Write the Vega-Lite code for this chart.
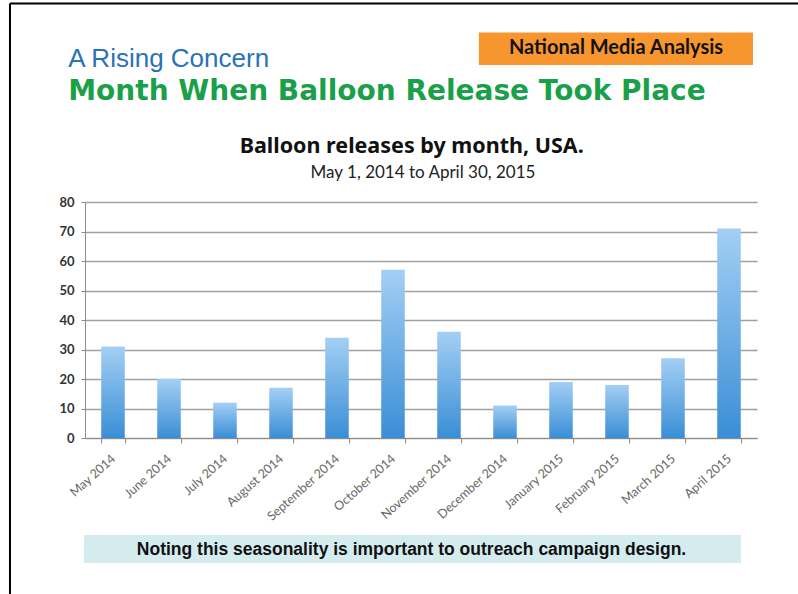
{
  "$schema": "https://vega.github.io/schema/vega-lite/v6.json",
  "autosize": "none",
  "width": 672,
  "height": 236,
  "padding": {"left": 85, "top": 202, "right": 41, "bottom": 156},
  "background": "white",
  "config": {"view": {"stroke": null}},
  "data": {"values": [
    {"month": "May 2014", "releases": 31},
    {"month": "June 2014", "releases": 20},
    {"month": "July 2014", "releases": 12},
    {"month": "August 2014", "releases": 17},
    {"month": "September 2014", "releases": 34},
    {"month": "October 2014", "releases": 57},
    {"month": "November 2014", "releases": 36},
    {"month": "December 2014", "releases": 11},
    {"month": "January 2015", "releases": 19},
    {"month": "February 2015", "releases": 18},
    {"month": "March 2015", "releases": 27},
    {"month": "April 2015", "releases": 71}
  ]},
  "layer": [
    {
      "mark": {"type": "bar", "color": {"gradient": "linear", "x1": 0, "y1": 0, "x2": 0, "y2": 1, "stops": [{"offset": 0, "color": "#A3CFF4"}, {"offset": 1, "color": "#3A8ED6"}]}},
      "encoding": {
        "x": {"field": "month", "type": "nominal", "sort": null, "title": null,
          "scale": {"paddingInner": 0.58, "paddingOuter": 0.29},
          "axis": {"labelAngle": -42, "labelFont": "Lato", "labelFontSize": 12.5, "labelColor": "#666666", "domainColor": "#8C8C8C", "tickColor": "#8C8C8C", "tickBand": "extent", "tickSize": 5, "labelPadding": 9, "labelOffset": -4}},
        "y": {"field": "releases", "type": "quantitative", "title": null,
          "scale": {"domain": [0, 80], "nice": false},
          "axis": {"tickCount": 8, "labelFont": "Lato", "labelFontWeight": "bold", "labelFontSize": 13, "labelColor": "#333333", "domainColor": "#8C8C8C", "tickColor": "#8C8C8C", "tickSize": 4, "gridColor": "#A0A0A0", "gridWidth": 1.4, "labelPadding": 7}}
      }
    },
    {
      "data": {"values": [{"t": "box"}]},
      "mark": {"type": "rect", "color": "#F7962F"},
      "encoding": {
        "x": {"datum": "December 2014", "bandPosition": -0.61},
        "x2": {"datum": "April 2015", "bandPosition": 1.52},
        "y": {"datum": 137.5},
        "y2": {"datum": 126.4}
      }
    },
    {
      "data": {"values": [{"t": "National Media Analysis"}]},
      "mark": {"type": "text", "font": "Lato", "fontWeight": "bold", "fontSize": 20, "color": "#111111", "align": "center", "baseline": "alphabetic", "dx": -1},
      "encoding": {
        "x": {"datum": "February 2015", "bandPosition": 0.5},
        "y": {"datum": 130.1},
        "text": {"field": "t"}
      }
    },
    {
      "data": {"values": [{"t": "A Rising Concern"}]},
      "mark": {"type": "text", "font": "Liberation Sans", "fontSize": 26, "color": "#2A72B8", "align": "left", "baseline": "alphabetic", "dx": -33},
      "encoding": {
        "x": {"datum": "May 2014", "bandPosition": 0},
        "y": {"datum": 125.7},
        "text": {"field": "t"}
      }
    },
    {
      "data": {"values": [{"t": "Month When Balloon Release Took Place"}]},
      "mark": {"type": "text", "font": "DejaVu Sans", "fontWeight": "bold", "fontSize": 28, "color": "#1BA04A", "align": "left", "baseline": "alphabetic", "dx": -33},
      "encoding": {
        "x": {"datum": "May 2014", "bandPosition": 0},
        "y": {"datum": 114.6},
        "text": {"field": "t"}
      }
    },
    {
      "data": {"values": [{"t": "Balloon releases by month, USA."}]},
      "mark": {"type": "text", "font": "Noto Sans", "fontWeight": "bold", "fontSize": 21.5, "color": "#111111", "align": "center", "baseline": "alphabetic", "dx": 18.7},
      "encoding": {
        "x": {"datum": "October 2014", "bandPosition": 0.5},
        "y": {"datum": 96.6},
        "text": {"field": "t"}
      }
    },
    {
      "data": {"values": [{"t": "May 1, 2014 to April 30, 2015"}]},
      "mark": {"type": "text", "font": "Lato", "fontSize": 17, "color": "#222222", "align": "center", "baseline": "alphabetic", "dx": 30},
      "encoding": {
        "x": {"datum": "October 2014", "bandPosition": 0.5},
        "y": {"datum": 88.3},
        "text": {"field": "t"}
      }
    },
    {
      "data": {"values": [{"t": "banner"}]},
      "mark": {"type": "rect", "color": "#D5ECEF"},
      "encoding": {
        "x": {"datum": "May 2014", "bandPosition": -0.73},
        "x2": {"datum": "April 2015", "bandPosition": 1.01},
        "y": {"datum": -32.9},
        "y2": {"datum": -42.4}
      }
    },
    {
      "data": {"values": [{"t": "Noting this seasonality is important to outreach campaign design."}]},
      "mark": {"type": "text", "font": "Liberation Sans", "fontWeight": "bold", "fontSize": 17.5, "color": "#111111", "align": "center", "baseline": "alphabetic", "dx": 18.5},
      "encoding": {
        "x": {"datum": "October 2014", "bandPosition": 0.5},
        "y": {"datum": -39.8},
        "text": {"field": "t"}
      }
    },
    {
      "data": {"values": [{"t": "top border"}]},
      "mark": {"type": "rule", "color": "#000000", "strokeWidth": 2},
      "encoding": {
        "x": {"datum": "May 2014", "bandPosition": -3.88},
        "x2": {"datum": "April 2015", "bandPosition": 3.5},
        "y": {"datum": 147.3}
      }
    },
    {
      "data": {"values": [{"t": "left border"}]},
      "mark": {"type": "rule", "color": "#000000", "strokeWidth": 2},
      "encoding": {
        "x": {"datum": "May 2014", "bandPosition": -3.88},
        "y": {"datum": 147.3},
        "y2": {"datum": -53}
      }
    }
  ]
}
